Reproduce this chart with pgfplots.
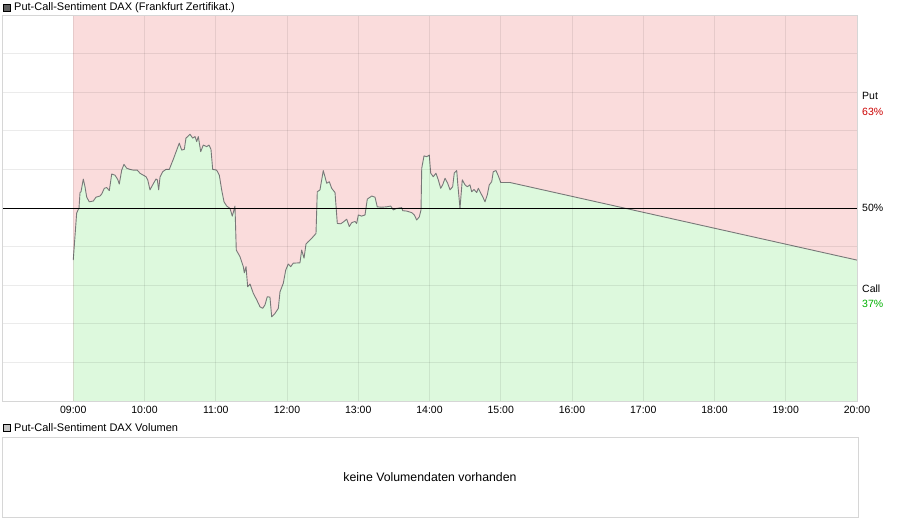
\documentclass[border=0pt]{standalone}
\usepackage{pgfplots}
\usepackage{pgfplotstable}
\pgfplotsset{compat=1.18}
\usepackage{fontspec}
\setmainfont{Liberation Sans}

\definecolor{putpink}{RGB}{250,220,220}
\definecolor{callgreen}{RGB}{221,249,221}
\definecolor{linegray}{RGB}{120,120,120}
\definecolor{framegray}{RGB}{214,214,214}
\definecolor{putred}{RGB}{204,0,0}
\definecolor{callgrn}{RGB}{0,176,0}

% hour of day, call share in percent
\pgfplotstableread{
h v
9.000 36.5
9.048 48.7
9.081 50.0
9.095 54.0
9.109 54.2
9.141 57.5
9.165 55.5
9.189 52.8
9.225 51.6
9.281 51.8
9.319 52.8
9.375 53.1
9.399 53.6
9.436 55.1
9.469 55.3
9.506 54.5
9.540 58.8
9.586 58.5
9.624 57.4
9.646 56.2
9.680 59.8
9.712 61.3
9.750 60.3
9.796 60.0
9.843 59.8
9.899 59.8
9.937 59.0
9.983 58.5
10.021 58.1
10.045 57.3
10.077 54.7
10.115 56.0
10.161 57.5
10.180 57.3
10.199 54.7
10.218 58.0
10.255 59.4
10.302 60.0
10.348 60.0
10.382 61.6
10.404 62.6
10.452 65.0
10.488 66.8
10.522 65.0
10.559 65.2
10.582 68.1
10.639 69.1
10.676 68.1
10.709 68.5
10.733 67.2
10.755 68.5
10.789 64.6
10.825 66.3
10.873 65.9
10.905 66.3
10.933 65.2
10.957 60.0
11.013 59.8
11.050 58.5
11.083 54.7
11.116 51.6
11.154 50.5
11.200 49.9
11.232 47.9
11.246 48.8
11.270 50.5
11.288 39.1
11.340 37.4
11.387 34.8
11.401 33.2
11.425 34.8
11.448 29.6
11.481 30.3
11.527 27.9
11.575 26.2
11.621 24.4
11.659 24.0
11.691 24.9
11.723 27.0
11.761 26.9
11.785 21.8
11.832 22.7
11.878 24.0
11.902 28.3
11.948 30.5
11.982 33.9
12.018 35.5
12.052 34.8
12.088 35.7
12.182 35.8
12.206 39.1
12.239 37.0
12.267 40.7
12.299 41.3
12.333 41.9
12.369 42.6
12.407 43.4
12.425 54.2
12.463 54.7
12.487 57.3
12.509 59.7
12.533 58.1
12.557 56.4
12.594 56.8
12.627 55.1
12.674 54.0
12.706 46.0
12.754 45.9
12.800 46.5
12.838 47.1
12.874 45.2
12.908 46.2
12.954 46.5
12.978 46.0
13.001 48.2
13.048 47.9
13.095 48.2
13.127 52.3
13.189 53.1
13.235 52.8
13.267 50.3
13.329 50.2
13.399 50.3
13.455 50.5
13.492 49.5
13.540 49.9
13.610 50.1
13.624 49.3
13.680 49.2
13.750 48.8
13.787 48.2
13.820 46.9
13.857 47.7
13.881 49.5
13.891 60.3
13.923 63.5
13.961 63.3
13.997 63.7
14.017 59.0
14.053 58.1
14.091 59.0
14.123 57.3
14.157 55.1
14.185 56.0
14.218 57.7
14.255 56.4
14.288 54.7
14.325 55.5
14.348 59.1
14.382 59.7
14.396 56.4
14.428 49.9
14.460 57.3
14.498 56.0
14.530 55.5
14.568 56.0
14.592 54.2
14.624 54.8
14.662 54.0
14.685 55.1
14.709 54.2
14.747 52.9
14.779 51.6
14.811 53.4
14.839 56.0
14.873 56.8
14.895 59.4
14.933 59.7
14.966 58.3
15.000 56.6
15.130 56.6
20.000 36.5
}\sentiment

\begin{document}
\begin{tikzpicture}[x=1pt,y=1pt]
\path[use as bounding box] (0,0) rectangle (900,526);

% chart header
\draw[black, fill=gray!75!black, line width=0.8pt] (3.5,514.5) rectangle (10.5,521.5);
\node[anchor=west, inner sep=0, font=\fontsize{11}{13}\selectfont] at (14,518.5)
  {Put-Call-Sentiment DAX (Frankfurt Zertifikat.)};

\begin{axis}[
  at={(2pt,125pt)}, anchor=south west,
  width=855pt, height=386pt, scale only axis,
  xmin=8, xmax=20, ymin=0, ymax=100,
  xtick={9,...,20},
  xticklabels={09:00,10:00,11:00,12:00,13:00,14:00,15:00,16:00,17:00,18:00,19:00,20:00},
  ytick={0,10,...,100}, yticklabels={},
  major tick length=0pt,
  grid=major,
  major grid style={black, opacity=0.08, line width=0.8pt},
  axis line style={framegray, line width=0.8pt},
  axis on top,
  clip mode=individual,
  tick label style={font=\fontsize{10.5}{12}\selectfont, text=black},
  xticklabel style={yshift=-1.5pt},
  /pgf/number format/assume math mode=true,
]
\addplot[fill=putpink, draw=none] coordinates {(9,0) (9,100) (20,100) (20,0)} -- cycle;
\addplot[fill=callgreen, draw=none] table[x=h, y=v] {\sentiment} \closedcycle;
\addplot[linegray, line width=0.9pt, line join=round] table[x=h, y=v] {\sentiment};
\addplot[black, line width=0.9pt] coordinates {(8,50) (20,50)};

\node[anchor=west, inner sep=0, font=\fontsize{10.5}{12}\selectfont] at (axis cs:20,79) [xshift=5pt] {Put};
\node[anchor=west, inner sep=0, font=\fontsize{10.5}{12}\selectfont, text=putred] at (axis cs:20,75) [xshift=5pt] {63\%};
\node[anchor=west, inner sep=0, font=\fontsize{10.5}{12}\selectfont] at (axis cs:20,50) [xshift=5pt] {50\%};
\node[anchor=west, inner sep=0, font=\fontsize{10.5}{12}\selectfont] at (axis cs:20,29) [xshift=5pt] {Call};
\node[anchor=west, inner sep=0, font=\fontsize{10.5}{12}\selectfont, text=callgrn] at (axis cs:20,25.1) [xshift=5pt] {37\%};
\end{axis}

% volume panel header
\draw[black, fill=gray!45, line width=0.8pt] (3.5,94.5) rectangle (10.5,101.5);
\node[anchor=west, inner sep=0, font=\fontsize{11}{13}\selectfont] at (14,98)
  {Put-Call-Sentiment DAX Volumen};

\begin{axis}[
  at={(2pt,9pt)}, anchor=south west,
  width=856pt, height=80pt, scale only axis,
  xmin=0, xmax=1, ymin=0, ymax=1,
  xtick=\empty, ytick=\empty,
  axis line style={framegray, line width=0.8pt},
]
\node[font=\fontsize{12.3}{14}\selectfont] at (rel axis cs:0.5,0.5) {keine Volumendaten vorhanden};
\end{axis}
\end{tikzpicture}
\end{document}
